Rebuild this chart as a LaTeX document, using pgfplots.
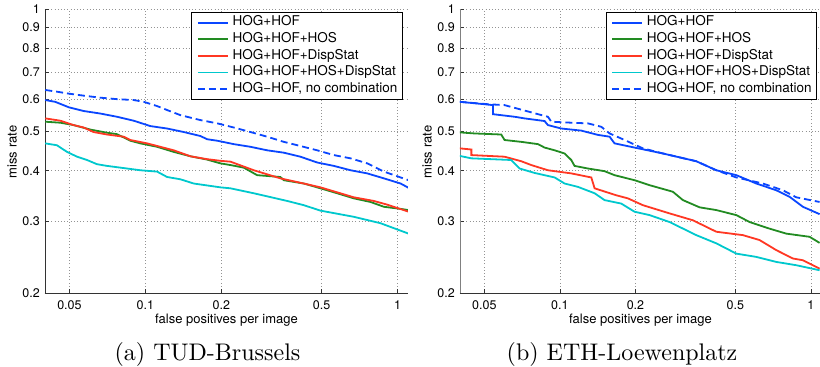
\documentclass[border=0pt]{standalone}
\usepackage{fontspec}
\usepackage{pgfplots}
\pgfplotsset{compat=1.18}
\newfontfamily\hv{TeX Gyre Heros}
\newfontfamily\capfont{lmroman10-regular}[Extension=.otf]
\definecolor{cblue}{RGB}{10,70,255}
\definecolor{cgreen}{RGB}{34,139,34}
\definecolor{cred}{RGB}{255,55,35}
\definecolor{ccyan}{RGB}{0,200,205}
\begin{document}
\begin{tikzpicture}
\path[use as bounding box] (0pt,0pt) rectangle (820pt,-367pt);
% ---------------- (a) TUD-Brussels ----------------
\begin{axis}[at={(45pt,-293pt)}, anchor=south west,
  scale only axis, width=363pt, height=284pt,
  xmode=log, ymode=log, xmin=0.04, xmax=1.1, ymin=0.2, ymax=1,
  xtick={0.05,0.1,0.2,0.5,1}, xticklabels={0.05,0.1,0.2,0.5,1},
  ytick={0.2,0.3,0.4,0.5,0.6,0.7,0.8,0.9,1},
  yticklabels={0.2,0.3,0.4,0.5,0.6,0.7,0.8,0.9,1},
  xminorticks=false, yminorticks=false,
  axis x line*=bottom, axis y line*=left,
  axis line style={-, black!80, line width=0.7pt},
  grid=major,
  major grid style={gray!85, line width=0.6pt, dash pattern=on 0.8pt off 2.4pt},
  major tick length=4pt, tick style={black!80, line width=0.6pt},
  /pgf/number format/assume math mode=true,
  ticklabel style={font=\hv\fontsize{12.5}{12.5}\selectfont},
  yticklabel style={inner sep=0pt, xshift=-5pt},
  xticklabel style={inner sep=0pt, yshift=-7.5pt},
  legend cell align=left,
  legend image code/.code={\draw[#1, line width=1.8pt] (0pt,0pt) -- (30pt,0pt);},
  legend style={at={(0.986,0.989)}, anchor=north east, draw=black, line width=1pt, fill=white,
    font=\hv\fontsize{13.5}{13.5}\selectfont,
    inner xsep=5pt, inner ysep=3.5pt, row sep=3.6pt, column sep=4pt,
    nodes={inner sep=0pt, text height=9.7pt, text depth=3.3pt}}]
\addplot[cblue, line width=1.8pt] coordinates {(0.0401,0.597)(0.0439,0.591)(0.0497,0.573)(0.0569,0.561)(0.0663,0.553)(0.0772,0.543)(0.0899,0.531)(0.1047,0.515)(0.122,0.508)(0.142,0.498)(0.165,0.487)(0.176,0.478)(0.193,0.474)(0.224,0.465)(0.261,0.458)(0.304,0.449)(0.354,0.443)(0.412,0.433)(0.480,0.419)(0.559,0.411)(0.651,0.401)(0.758,0.394)(0.883,0.383)(1.028,0.372)(1.106,0.363)};
\addlegendentry{HOG+HOF}
\addplot[cgreen, line width=1.8pt] coordinates {(0.0401,0.528)(0.0460,0.525)(0.0519,0.518)(0.0605,0.505)(0.0705,0.496)(0.0772,0.492)(0.0872,0.474)(0.0955,0.467)(0.1113,0.458)(0.1295,0.445)(0.151,0.434)(0.1757,0.426)(0.1984,0.417)(0.2175,0.413)(0.2455,0.407)(0.2775,0.390)(0.3433,0.386)(0.3538,0.379)(0.4248,0.372)(0.4947,0.362)(0.5763,0.352)(0.6709,0.342)(0.7815,0.335)(0.883,0.326)(0.997,0.323)(1.106,0.320)};
\addlegendentry{HOG+HOF+HOS}
\addplot[cred, line width=1.8pt] coordinates {(0.0401,0.538)(0.0460,0.531)(0.0519,0.518)(0.0569,0.511)(0.0623,0.498)(0.0705,0.491)(0.0820,0.485)(0.0872,0.476)(0.1016,0.467)(0.1295,0.449)(0.151,0.434)(0.1757,0.427)(0.1984,0.423)(0.2175,0.421)(0.2691,0.401)(0.3433,0.383)(0.4248,0.372)(0.4947,0.364)(0.6709,0.344)(0.805,0.337)(0.910,0.330)(1.106,0.317)};
\addlegendentry{HOG+HOF+DispStat}
\addplot[ccyan, line width=1.8pt] coordinates {(0.0401,0.467)(0.0446,0.462)(0.0489,0.445)(0.0536,0.433)(0.0587,0.425)(0.0643,0.415)(0.0705,0.411)(0.0820,0.406)(0.0955,0.401)(0.1113,0.398)(0.122,0.386)(0.1377,0.381)(0.1555,0.372)(0.1866,0.366)(0.1984,0.364)(0.2175,0.362)(0.2691,0.352)(0.3649,0.337)(0.4248,0.329)(0.4947,0.319)(0.6709,0.308)(0.856,0.297)(1.106,0.280)};
\addlegendentry{HOG+HOF+HOS+DispStat}
\addplot[cblue, line width=1.8pt, dash pattern=on 7pt off 4pt] coordinates {(0.0401,0.632)(0.0446,0.626)(0.0489,0.620)(0.0569,0.612)(0.0663,0.605)(0.0772,0.600)(0.0899,0.597)(0.0985,0.591)(0.1113,0.577)(0.122,0.564)(0.1377,0.548)(0.165,0.533)(0.193,0.523)(0.224,0.511)(0.261,0.498)(0.304,0.485)(0.354,0.471)(0.412,0.460)(0.480,0.449)(0.559,0.437)(0.651,0.429)(0.758,0.417)(0.883,0.398)(1.106,0.379)};
\addlegendentry{HOG−HOF, no combination}
\end{axis}
% ---------------- (b) ETH-Loewenplatz ----------------
\begin{axis}[at={(460pt,-293pt)}, anchor=south west,
  scale only axis, width=360pt, height=284pt,
  xmode=log, ymode=log, xmin=0.04, xmax=1.087, ymin=0.2, ymax=1,
  xtick={0.05,0.1,0.2,0.5,1}, xticklabels={0.05,0.1,0.2,0.5,1},
  ytick={0.2,0.3,0.4,0.5,0.6,0.7,0.8,0.9,1},
  yticklabels={0.2,0.3,0.4,0.5,0.6,0.7,0.8,0.9,1},
  xminorticks=false, yminorticks=false,
  axis x line*=bottom, axis y line*=left,
  axis line style={-, black!80, line width=0.7pt},
  y axis line style={gray},
  grid=major,
  major grid style={gray!85, line width=0.6pt, dash pattern=on 0.8pt off 2.4pt},
  major tick length=4pt, tick style={black!80, line width=0.6pt},
  /pgf/number format/assume math mode=true,
  ticklabel style={font=\hv\fontsize{12.5}{12.5}\selectfont},
  yticklabel style={inner sep=0pt, xshift=-5pt},
  xticklabel style={inner sep=0pt, yshift=-7.5pt},
  legend cell align=left,
  legend image code/.code={\draw[#1, line width=1.8pt] (0pt,0pt) -- (30pt,0pt);},
  legend style={at={(0.992,0.989)}, anchor=north east, draw=black, line width=1pt, fill=white,
    font=\hv\fontsize{13.5}{13.5}\selectfont,
    inner xsep=5pt, inner ysep=3.5pt, row sep=3.6pt, column sep=4pt,
    nodes={inner sep=0pt, text height=9.7pt, text depth=3.3pt}}]
\addplot[cblue, line width=1.8pt] coordinates {(0.0399,0.591)(0.0501,0.583)(0.0541,0.580)(0.0541,0.551)(0.0660,0.543)(0.0723,0.538)(0.0869,0.530)(0.0896,0.518)(0.1013,0.508)(0.1217,0.502)(0.1417,0.490)(0.1578,0.485)(0.1651,0.467)(0.1984,0.456)(0.2573,0.441)(0.3495,0.422)(0.4199,0.401)(0.5046,0.390)(0.6059,0.372)(0.7279,0.358)(0.8224,0.345)(0.9292,0.326)(1.083,0.3127)};
\addlegendentry{HOG+HOF}
\addplot[cgreen, line width=1.8pt] coordinates {(0.0399,0.497)(0.0457,0.494)(0.0584,0.491)(0.0602,0.476)(0.0702,0.471)(0.0818,0.465)(0.0869,0.456)(0.0953,0.449)(0.1044,0.441)(0.1110,0.425)(0.1144,0.411)(0.1293,0.405)(0.1507,0.399)(0.1651,0.390)(0.1984,0.379)(0.2277,0.3685)(0.2820,0.355)(0.3091,0.3386)(0.3603,0.325)(0.4199,0.320)(0.5046,0.311)(0.5699,0.299)(0.6845,0.288)(0.7980,0.280)(0.9880,0.275)(1.083,0.2657)};
\addlegendentry{HOG+HOF+HOS}
\addplot[cred, line width=1.8pt] coordinates {(0.0399,0.454)(0.0444,0.451)(0.0444,0.437)(0.0602,0.433)(0.0702,0.422)(0.0769,0.413)(0.0896,0.401)(0.1110,0.394)(0.1334,0.385)(0.1375,0.362)(0.1677,0.348)(0.1866,0.342)(0.2141,0.329)(0.2736,0.314)(0.3388,0.302)(0.4199,0.283)(0.5360,0.2776)(0.6245,0.270)(0.7279,0.255)(0.8477,0.2432)(0.9292,0.2408)(1.083,0.2297)};
\addlegendentry{HOG+HOF+DispStat}
\addplot[ccyan, line width=1.8pt] coordinates {(0.0399,0.435)(0.0444,0.429)(0.0640,0.425)(0.0691,0.405)(0.0793,0.395)(0.0953,0.385)(0.1044,0.372)(0.1180,0.365)(0.1375,0.352)(0.1507,0.3386)(0.1756,0.332)(0.1984,0.317)(0.2277,0.311)(0.2736,0.299)(0.3495,0.2776)(0.4199,0.265)(0.5046,0.250)(0.6059,0.2454)(0.7279,0.2385)(0.8745,0.2341)(1.083,0.2275)};
\addlegendentry{HOG+HOF+HOS+DispStat}
\addplot[cblue, line width=1.8pt, dash pattern=on 7pt off 4pt] coordinates {(0.0399,0.591)(0.0517,0.583)(0.0602,0.580)(0.0818,0.551)(0.0896,0.543)(0.0924,0.528)(0.1110,0.525)(0.1293,0.523)(0.1462,0.513)(0.1578,0.494)(0.1756,0.480)(0.2141,0.454)(0.2573,0.441)(0.3495,0.422)(0.4199,0.401)(0.5046,0.385)(0.6437,0.372)(0.7734,0.358)(0.8745,0.344)(1.083,0.335)};
\addlegendentry{HOG+HOF, no combination}
\end{axis}
% labels
\begin{scope}[every node/.style={font=\hv\fontsize{13}{13}\selectfont, inner sep=0pt}]
\node[anchor=base] at (226.5pt,-323pt) {false positives per image};
\node[anchor=base] at (640.5pt,-323.5pt) {false positives per image};
\node[rotate=90, anchor=base] at (16.7pt,-152pt) {miss rate};
\node[rotate=90, anchor=base] at (431.7pt,-152pt) {miss rate};
\end{scope}
\node[anchor=base, inner sep=0pt, font=\capfont\fontsize{24}{24}\selectfont] at (207.5pt,-360pt) {(a) TUD-Brussels};
\node[anchor=base, inner sep=0pt, font=\capfont\fontsize{24}{24}\selectfont] at (622pt,-360pt) {(b) ETH-Loewenplatz};
\end{tikzpicture}
\end{document}
